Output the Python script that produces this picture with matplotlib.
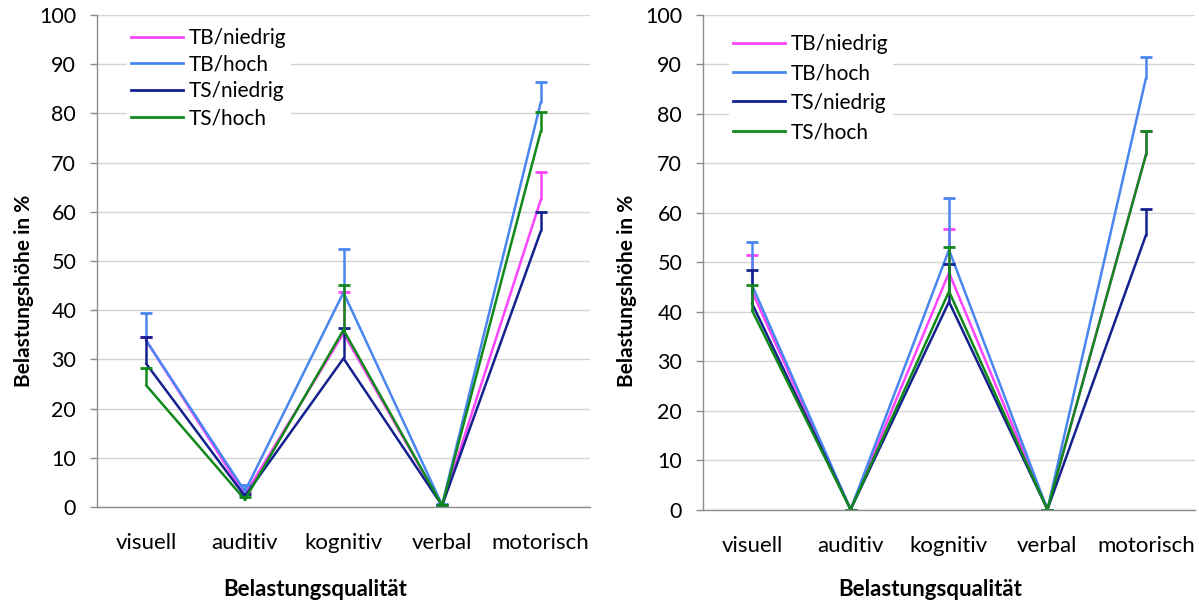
import matplotlib.pyplot as plt
import numpy as np

plt.rcParams['font.family'] = ['Lato', 'DejaVu Sans']

categories = ["visuell", "auditiv", "kognitiv", "verbal", "motorisch"]
series_names = ["TB/niedrig", "TB/hoch", "TS/niedrig", "TS/hoch"]
colors = ["#FF44FF", "#4A86F0", "#14218F", "#10891A"]

# left panel: means and upper error
left_tb_niedrig = [33.8, 2.5, 35.3, 0.3, 62.4]
left_tb_niedrig_err = [0.8, 0.5, 8.5, 0.2, 5.7]
left_tb_hoch = [33.8, 3.2, 43.6, 0.4, 82.2]
left_tb_hoch_err = [5.7, 1.2, 8.9, 0.3, 4.1]
left_ts_niedrig = [29.1, 2.2, 30.2, 0.3, 56.0]
left_ts_niedrig_err = [5.5, 0.5, 6.2, 0.2, 4.0]
left_ts_hoch = [24.7, 1.5, 36.0, 0.3, 76.3]
left_ts_hoch_err = [3.5, 0.5, 9.1, 0.2, 4.0]

# right panel
right_tb_niedrig = [44.0, 0.0, 47.9, 0.0, 71.7]
right_tb_niedrig_err = [7.4, 0.0, 8.8, 0.0, 4.8]
right_tb_hoch = [45.3, 0.0, 52.5, 0.0, 87.1]
right_tb_hoch_err = [8.8, 0.0, 10.5, 0.0, 4.5]
right_ts_niedrig = [41.6, 0.0, 42.0, 0.0, 55.4]
right_ts_niedrig_err = [6.8, 0.0, 7.7, 0.0, 5.3]
right_ts_hoch = [40.2, 0.0, 44.1, 0.0, 71.6]
right_ts_hoch_err = [5.1, 0.0, 9.0, 0.0, 4.9]

left_data = [(left_tb_niedrig, left_tb_niedrig_err), (left_tb_hoch, left_tb_hoch_err),
             (left_ts_niedrig, left_ts_niedrig_err), (left_ts_hoch, left_ts_hoch_err)]
right_data = [(right_tb_niedrig, right_tb_niedrig_err), (right_tb_hoch, right_tb_hoch_err),
              (right_ts_niedrig, right_ts_niedrig_err), (right_ts_hoch, right_ts_hoch_err)]

W, H = 1199, 600
fig = plt.figure(figsize=(W / 100, H / 100), dpi=100)


def px_box(x0, x1, y_top, y_bot):
    return [x0 / W, 1 - y_bot / H, (x1 - x0) / W, (y_bot - y_top) / H]


def draw_panel(ax, data, legend_anchor, labelspacing):
    x = np.arange(len(categories))
    for (vals, err), name, c in zip(data, series_names, colors):
        vals = np.array(vals)
        err = np.array(err)
        ax.plot(x, vals, color=c, lw=1.8, label=name, solid_joinstyle='miter', zorder=3)
        # upper error bars only, with a cap at the top
        ax.vlines(x, vals, vals + err, color=c, lw=1.8, zorder=3)
        ax.plot(x, vals + err, ls='none', marker='_', ms=9, mew=2.0, color=c, zorder=3)

    ax.set_xlim(-0.5, len(categories) - 0.5)
    ax.set_ylim(0, 100)
    ax.set_yticks(np.arange(0, 101, 10))
    ax.set_xticks(x)
    ax.set_xticklabels(categories, fontsize=16)
    ax.grid(axis='y', color='#d4d4d4', lw=1.0, zorder=0)
    ax.set_axisbelow(True)
    for s in ['top', 'right']:
        ax.spines[s].set_visible(False)
    for s in ['left', 'bottom']:
        ax.spines[s].set_color('#8c8c8c')
        ax.spines[s].set_linewidth(1.0)
    ax.tick_params(axis='y', length=5, width=1.0, color='#8c8c8c', pad=10, labelsize=15.5)
    ax.tick_params(axis='x', length=0, pad=19)
    ax.spines['bottom'].set_zorder(4)

    leg = ax.legend(loc='upper left', bbox_to_anchor=legend_anchor, frameon=True,
                    fontsize=15, handlelength=2.5, handletextpad=0.3,
                    labelspacing=labelspacing, borderpad=0.2, borderaxespad=0)
    leg.get_frame().set_facecolor('white')
    leg.get_frame().set_edgecolor('none')
    leg.get_frame().set_alpha(1.0)
    for line in leg.get_lines():
        line.set_linewidth(2.0)


ax1 = fig.add_axes(px_box(97, 590, 15, 507))
draw_panel(ax1, left_data, (0.06, 0.982), 0.32)

ax2 = fig.add_axes(px_box(703, 1195, 15, 509.5))
draw_panel(ax2, right_data, (0.052, 0.97), 0.45)

for xc, yc in [(24, 291), (627, 291)]:
    fig.text(xc / W, 1 - yc / H, "Belastungshöhe in %", rotation=90, ha='center',
             va='center', fontsize=15, fontweight='bold')
for xc, yc in [(315, 590), (930, 590)]:
    fig.text(xc / W, 1 - yc / H, "Belastungsqualität", ha='center', va='center',
             fontsize=16, fontweight='bold')

fig.savefig("out.png", dpi=100)
